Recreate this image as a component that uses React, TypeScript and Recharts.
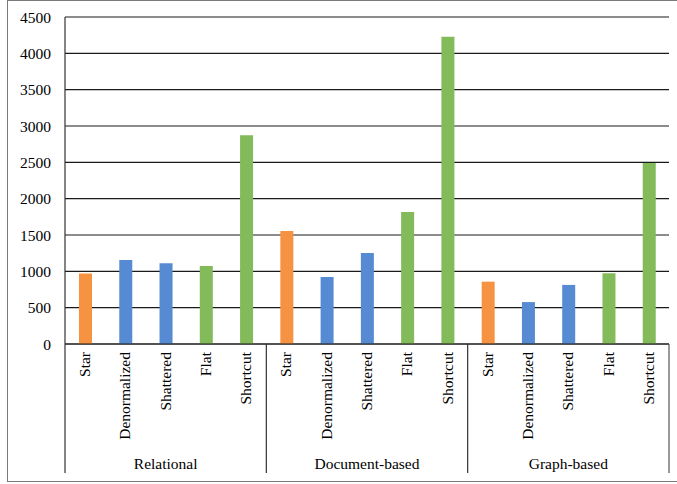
import React from 'react';
import { BarChart, Bar, XAxis, YAxis, CartesianGrid, Cell } from 'recharts';

const groups = ['Relational', 'Document-based', 'Graph-based'];
const models = ['Star', 'Denormalized', 'Shattered', 'Flat', 'Shortcut'];
const relational = [970, 1155, 1110, 1075, 2872];
const documentBased = [1555, 923, 1252, 1816, 4228];
const graphBased = [858, 577, 813, 972, 2492];
const yTicks = [0, 500, 1000, 1500, 2000, 2500, 3000, 3500, 4000, 4500];

const modelColors: Record<string, string> = {
  Star: '#F59342',
  Denormalized: '#568AD3',
  Shattered: '#568AD3',
  Flat: '#83BA5A',
  Shortcut: '#83BA5A',
};

const seriesByGroup = [relational, documentBased, graphBased];
const data = groups.flatMap((g, gi) =>
  models.map((m, mi) => ({
    key: `${g}|${m}`,
    group: g,
    model: m,
    value: seriesByGroup[gi][mi],
  }))
);

const W = 677;
const H = 484;
const MARGIN = { top: 17, right: 8, left: 0, bottom: 0 };
const YAXIS_W = 65;
const XAXIS_H = 140;
const FONT = '"Liberation Serif", "Times New Roman", serif';
const FS = 15.5;

const GroupTick = (props: any) => {
  const { x, y, payload, index, width, visibleTicksCount } = props;
  const n = visibleTicksCount || data.length;
  const plotW = width || W - MARGIN.left - MARGIN.right - YAXIS_W;
  const band = plotW / n;
  const d = data[index];
  const lineBottom = y + 129;
  const perGroup = models.length;
  const elems: React.ReactNode[] = [];
  elems.push(
    <text
      key="t"
      x={0}
      y={0}
      transform={`translate(${x + 5},${y + 8}) rotate(-90)`}
      textAnchor="end"
      fontFamily={FONT}
      fontSize={FS}
      fill="#000"
    >
      {d ? d.model : payload.value}
    </text>
  );
  if (index % perGroup === 0) {
    const left = x - band / 2;
    elems.push(<line key="l" x1={left} x2={left} y1={y} y2={lineBottom} stroke="#333" strokeWidth={1.2} />);
    const center = left + (band * perGroup) / 2;
    elems.push(
      <text key="g" x={center} y={y + 125} textAnchor="middle" fontFamily={FONT} fontSize={FS} fill="#000">
        {d ? d.group : ''}
      </text>
    );
  }
  if (index === n - 1) {
    const right = x + band / 2;
    elems.push(<line key="r" x1={right} x2={right} y1={y} y2={lineBottom} stroke="#555" strokeWidth={1.2} />);
  }
  return <g>{elems}</g>;
};

export default function App() {
  return (
    <div style={{ position: 'absolute', left: 0, top: 0, width: W, height: H, overflow: 'hidden', background: '#fff' }}>
      <div
        style={{
          position: 'absolute',
          left: 7,
          top: 0,
          width: 700,
          height: 482,
          boxSizing: 'border-box',
          border: '1.5px solid #7a7a7a',
        }}
      />
      <div style={{ position: 'absolute', left: 0, top: 0 }}>
        <BarChart width={W} height={H} data={data} margin={MARGIN} barCategoryGap={0}>
          <CartesianGrid horizontal vertical={false} stroke="#1a1a1a" strokeWidth={1.2} />
          <XAxis
            dataKey="key"
            interval={0}
            height={XAXIS_H}
            tickSize={0}
            tickMargin={0}
            tickLine={false}
            axisLine={{ stroke: '#1a1a1a', strokeWidth: 1.2 }}
            tick={<GroupTick />}
          />
          <YAxis
            width={YAXIS_W}
            domain={[0, 4500]}
            ticks={yTicks}
            interval={0}
            tickSize={0}
            tickMargin={14}
            tickLine={false}
            axisLine={{ stroke: '#333', strokeWidth: 1.2 }}
            tick={{ fontFamily: FONT, fontSize: FS, fill: '#000' }}
          />
          <YAxis
            yAxisId="r"
            orientation="right"
            width={0}
            domain={[0, 4500]}
            tick={false}
            tickLine={false}
            axisLine={{ stroke: '#666', strokeWidth: 1.2 }}
          />
          <Bar dataKey="value" barSize={13} isAnimationActive={false}>
            {data.map((d) => (
              <Cell key={d.key} fill={modelColors[d.model]} />
            ))}
          </Bar>
        </BarChart>
      </div>
    </div>
  );
}
